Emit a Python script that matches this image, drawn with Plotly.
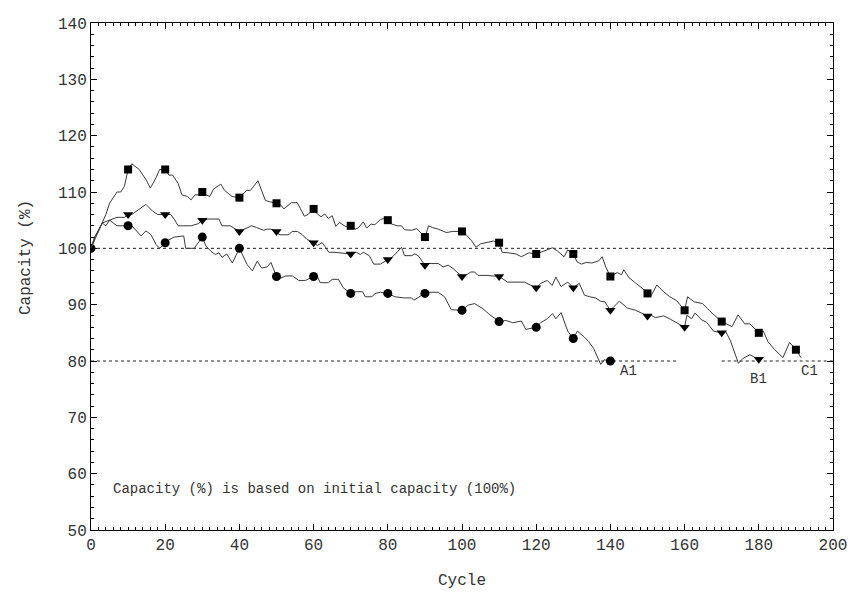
import plotly.graph_objects as go

# ---------------- data ----------------
a1_cycle = [0,1,2,3,4,5,6,7,9,10,11,13.5,14.8,16.2,17.5,18.5,20,21,22.4,25,25.5,27.8,30,31,32.3,33.5,34.5,35.3,36.6,38.1,40,40.8,42.1,43.5,44.8,46,47.5,48.5,50,50.7,52.5,54.3,56,57.8,60,61,61.8,64,65,66.7,68,70,71.5,73.2,73.9,75.7,76.6,78,80,81.9,84.5,86.4,87,90,91,93.6,95.3,97.1,100,101.6,103.4,105.6,107.5,110,111.8,113.7,116,117.2,120,121.2,123,124.4,125.3,126.7,127.6,128.5,130,131.1,132.9,134.2,135.5,136.5,137.4,138.3,140]
a1_value = [100,102,103,104.5,104,105,104.5,104,104,104,104,102.2,103.1,102.4,100.7,100,101,101.5,102,102.2,100,100,102,100.4,99.5,98.9,99.2,98.4,99,97.4,100,98.9,97.1,96,97.7,96.5,96.7,97.5,95,94.6,95.1,95.1,94.3,94.3,95,95,93.9,93.9,94.5,94.5,93,92,92.3,92.3,91.4,91.4,92,92.2,92,91.4,91.2,91.2,90.8,92,92.2,92.2,91.4,89.1,89,89.9,90.2,89.3,88.2,87,87.2,86.8,87.1,85.6,86,86.8,87.5,88.4,87.5,88.6,86.8,85.3,84,85.3,84.3,83.4,82.2,80.8,79.4,80.2,80]

b1_cycle = [0,1,3,5,7,9,10,11,13,14.8,16.6,18,20,21.5,22.4,23.5,25,27,29,30,31.5,34.5,35.3,37.5,40,41.5,43.3,44.6,46.5,47.5,48.5,50,50.7,53.3,54.2,55.6,57,58.2,60,61,62.3,63.2,64.1,65.5,70,71.5,72.6,73.4,75,76.2,78,80,81.1,82.5,83.7,84.5,86.4,87.3,88.2,90,91,93.6,94.9,96.3,97.6,100,101,102.4,103.4,104.3,106.5,110,110.9,112.3,116.8,120,121.2,123,124.3,125.3,126.7,128.5,130,131.6,133,134.4,136,137.4,138.5,140,141,142.4,144.6,146.8,150,151,152.1,154.4,156.2,160,160.6,161.9,162.8,164.6,165.9,167.8,170,171,172.3,174.5,175.8,177.6,180]
b1_value = [100,102,104.5,105,105.5,105.5,106,106,106.9,107.8,106.6,106,106,106,105.2,104,104,104,104.4,105,105.2,105.2,104,104,103,103.5,104,103.7,103.2,103.4,103.4,103,102.4,102.4,103,103,102.4,101.6,101,100.5,101,100.2,99.3,99.3,99,99.3,98.9,99.3,98.7,97.2,97.2,98,98.4,99.3,100.2,98.7,98.7,99,98.7,97,97.3,97.3,96.7,97,96.4,95,95.2,95.8,95.8,95.2,95.2,95,94.6,94,94,93,93.8,94.3,93.4,94.9,93.2,94,93,93.8,91.7,91.4,91.2,90.6,90.5,89,89.7,90.6,89.4,89,88,88.1,87.7,88,87.4,86,88.1,87.5,88.5,87.3,86.9,85.3,85,85.3,83.7,79.6,80.5,81.1,80.3]

c1_cycle = [0,2,4,5,7,8,9,10,11,13,15,16,17.5,18.5,20,21,22,23.5,24.5,26,27,28,29,30,31,32,33,35,36,38,40,42,43,45,46,47,48,50,51,52,54,55.6,56.5,57.5,58.5,60,61,62,63,64,65,66,67,68.5,70,71.2,72,73.4,74.3,75.5,76.5,78,79,80,81.1,82.5,83.7,84.5,86.4,87.8,90,91,92,93.6,95.8,97.5,100,101,102.5,103.8,105,107,108.5,110,110.8,112.5,114.6,116,118,120,121.5,123,124.4,125.8,127.5,128.5,130,131,132.2,133.5,135,136.9,137.8,138.8,140,141.8,143,143.6,145,146.7,150,151,152.5,154.3,156,157.9,160,160.8,162.6,164.8,166.2,167.7,170,171.1,172.8,174.4,176.2,177.6,180,181.2,182.5,184.3,186.5,188.3,190,191.4]
c1_value = [100,103,106,108,110,110,111,114,115,114,112,110.7,112.5,114,114,113,113,111.5,109.5,109.2,108.6,109.5,109.5,110,109.5,109.2,110.5,111.4,110.3,109.2,109,110.3,110.3,112,110.3,108.5,108.3,108,107.8,107,108.1,108.1,107,105.7,106,107,106.1,105.6,106.1,105.3,105.8,103.9,104.6,103.9,104,103.4,103.6,104.7,103.6,104.3,104.2,105.1,105.3,105,104.3,104,104,103.3,103.2,103.5,102,104,103.7,103.4,102.8,103,103,102.5,101.4,100.2,100.8,101.1,101.3,101,99.3,99.2,99,98.5,99.2,99,99.4,99.8,100.1,99.5,98.5,99.7,99,97.6,97.2,97.5,97.4,97.8,98.5,96.6,95,95.7,95.3,96.2,94.8,93.9,92,91.6,93.5,92.3,91.4,90.7,89,91.4,90.5,90.2,89.3,88.3,87,86.7,86.1,88.2,86.6,86.6,85,85.3,83.4,82,80.6,83.3,82,80.6]

ref_levels = [100, 80]
ref_spans = [[(0, 200)], [(0, 158), (170, 200)]]

series_names = ["A1", "B1", "C1"]
label_pos = [(145, 78.3), (180, 76.8), (193.6, 78.3)]
note_text = "Capacity (%) is based on initial capacity (100%)"

x_ticks = [0, 20, 40, 60, 80, 100, 120, 140, 160, 180, 200]
y_ticks = [50, 60, 70, 80, 90, 100, 110, 120, 130, 140]

# ---------------- figure ----------------
FONT = "Liberation Mono"
TXT = "#333333"
LINE = "#3a3a3a"

fig = go.Figure()

# dotted reference lines
for lvl, spans in zip(ref_levels, ref_spans):
    for (x0, x1) in spans:
        fig.add_trace(go.Scatter(x=[x0, x1], y=[lvl, lvl], mode="lines",
                                 line=dict(color="#222", width=1, dash="dot"),
                                 showlegend=False, hoverinfo="skip"))

series = [
    (a1_cycle, a1_value, "circle", 9, True),
    (b1_cycle, b1_value, "triangle-down", 9, False),
    (c1_cycle, c1_value, "square", 8, False),
]
for name, (cx, cy, sym, size, with_zero) in zip(series_names, series):
    fig.add_trace(go.Scatter(x=cx, y=cy, mode="lines",
                             line=dict(color=LINE, width=1),
                             showlegend=False, name=name))
    mx = [x for x in cx if x % 10 == 0 and (with_zero or x > 0)]
    my = [y for x, y in zip(cx, cy) if x % 10 == 0 and (with_zero or x > 0)]
    fig.add_trace(go.Scatter(x=mx, y=my, mode="markers",
                             marker=dict(symbol=sym, size=size, color="black",
                                         line=dict(width=0)),
                             showlegend=False, name=name))

for name, (lx, ly) in zip(series_names, label_pos):
    fig.add_annotation(x=lx, y=ly, text=name, showarrow=False,
                       font=dict(family=FONT, size=14, color=TXT))

fig.add_annotation(x=5.5, y=57.3, text=note_text, showarrow=False, xanchor="left",
                   font=dict(family=FONT, size=14, color=TXT))

# axis titles
fig.add_annotation(x=-0.0885, y=0.537, xref="paper", yref="paper", text="Capacity (%)",
                   textangle=-90, showarrow=False, xanchor="center", yanchor="middle",
                   font=dict(family=FONT, size=16, color=TXT))
fig.add_annotation(x=0.5, y=-0.101, xref="paper", yref="paper", text="Cycle",
                   showarrow=False, xanchor="center", yanchor="middle",
                   font=dict(family=FONT, size=16, color=TXT))

axis_common = dict(showgrid=False, zeroline=False, showline=True, linecolor="black",
                   linewidth=1, mirror="ticks", ticks="inside", ticklen=6,
                   tickcolor="black", tickwidth=1,
                   tickfont=dict(family=FONT, size=16, color=TXT))

fig.update_xaxes(range=[0, 200], tickvals=x_ticks, ticktext=[str(v) for v in x_ticks],
                 minor=dict(ticks="inside", ticklen=3, dtick=2, tickcolor="black"),
                 **axis_common)
fig.update_yaxes(range=[50, 140], tickvals=y_ticks, ticktext=[str(v) for v in y_ticks],
                 minor=dict(ticks="inside", ticklen=3, dtick=2, tickcolor="black"),
                 **axis_common)

# the page body adds an 8 px offset, so the figure is sized/margined to compensate
fig.update_layout(width=847, height=584, plot_bgcolor="white", paper_bgcolor="white",
                  margin=dict(l=83, r=18, t=8, b=62), showlegend=False)

fig.write_html("out.html")
